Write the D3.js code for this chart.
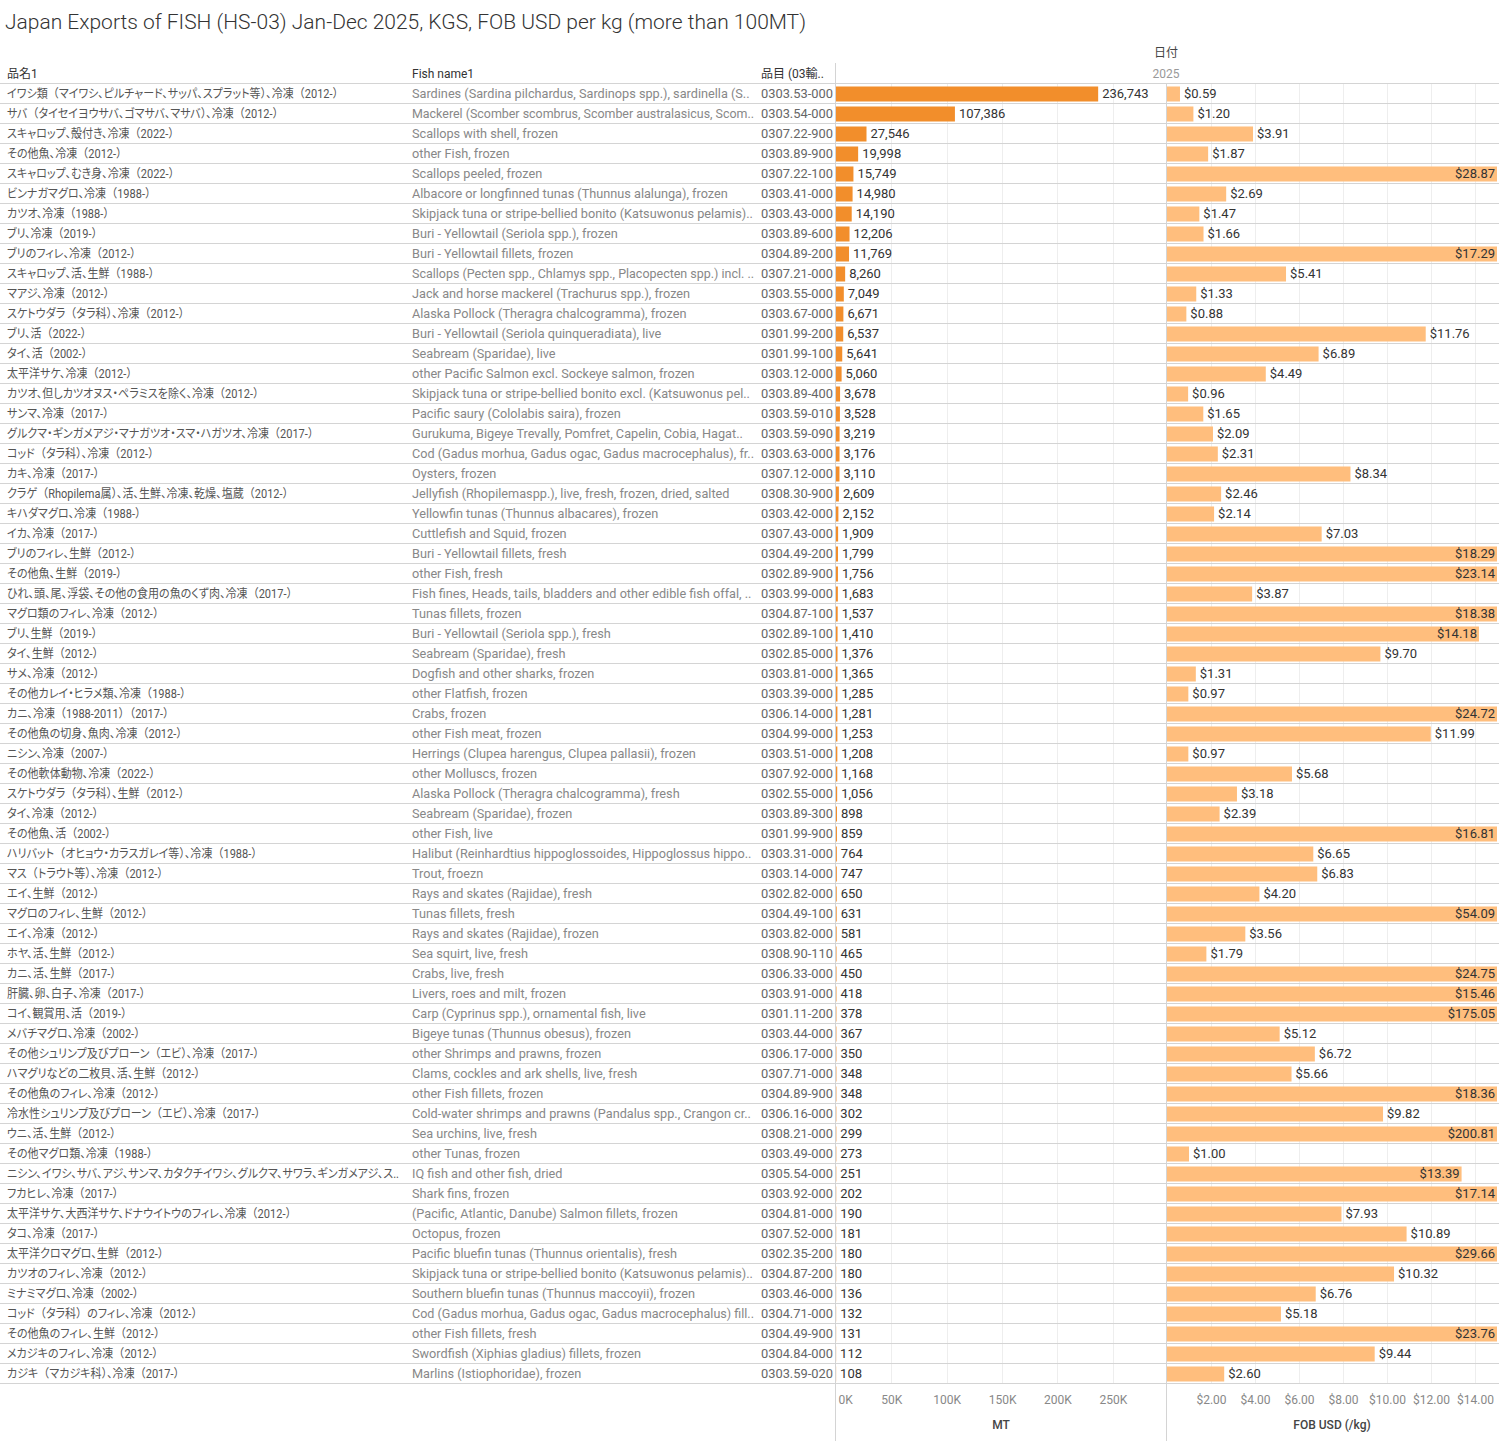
<!DOCTYPE html>
<html>
<head>
<meta charset="utf-8">
<script src="https://cdn.jsdelivr.net/npm/d3@7"></script>
<style>
  body { margin: 0; background: #fff; }
  text { font-family: Roboto, "Noto Sans CJK JP", sans-serif; }
</style>
</head>
<body>
<div id="chart"></div>
<script>
const jpNames = [
  "イワシ類（マイワシ、ピルチャード、サッパ、スプラット等）、冷凍（2012-）",
  "サバ（タイセイヨウサバ、ゴマサバ、マサバ）、冷凍（2012-）",
  "スキャロップ、殻付き、冷凍（2022-）",
  "その他魚、冷凍（2012-）",
  "スキャロップ、むき身、冷凍（2022-）",
  "ビンナガマグロ、冷凍（1988-）",
  "カツオ、冷凍（1988-）",
  "ブリ、冷凍（2019-）",
  "ブリのフィレ、冷凍（2012-）",
  "スキャロップ、活、生鮮（1988-）",
  "マアジ、冷凍（2012-）",
  "スケトウダラ（タラ科）、冷凍（2012-）",
  "ブリ、活（2022-）",
  "タイ、活（2002-）",
  "太平洋サケ、冷凍（2012-）",
  "カツオ、但しカツオヌス・ペラミスを除く、冷凍（2012-）",
  "サンマ、冷凍（2017-）",
  "グルクマ・ギンガメアジ・マナガツオ・スマ・ハガツオ、冷凍（2017-）",
  "コッド（タラ科）、冷凍（2012-）",
  "カキ、冷凍（2017-）",
  "クラゲ（Rhopilema属）、活、生鮮、冷凍、乾燥、塩蔵（2012-）",
  "キハダマグロ、冷凍（1988-）",
  "イカ、冷凍（2017-）",
  "ブリのフィレ、生鮮（2012-）",
  "その他魚、生鮮（2019-）",
  "ひれ、頭、尾、浮袋、その他の食用の魚のくず肉、冷凍（2017-）",
  "マグロ類のフィレ、冷凍（2012-）",
  "ブリ、生鮮（2019-）",
  "タイ、生鮮（2012-）",
  "サメ、冷凍（2012-）",
  "その他カレイ・ヒラメ類、冷凍（1988-）",
  "カニ、冷凍（1988-2011）（2017-）",
  "その他魚の切身、魚肉、冷凍（2012-）",
  "ニシン、冷凍（2007-）",
  "その他軟体動物、冷凍（2022-）",
  "スケトウダラ（タラ科）、生鮮（2012-）",
  "タイ、冷凍（2012-）",
  "その他魚、活（2002-）",
  "ハリバット（オヒョウ・カラスガレイ等）、冷凍（1988-）",
  "マス（トラウト等）、冷凍（2012-）",
  "エイ、生鮮（2012-）",
  "マグロのフィレ、生鮮（2012-）",
  "エイ、冷凍（2012-）",
  "ホヤ、活、生鮮（2012-）",
  "カニ、活、生鮮（2017-）",
  "肝臓、卵、白子、冷凍（2017-）",
  "コイ、観賞用、活（2019-）",
  "メバチマグロ、冷凍（2002-）",
  "その他シュリンプ及びプローン（エビ）、冷凍（2017-）",
  "ハマグリなどの二枚貝、活、生鮮（2012-）",
  "その他魚のフィレ、冷凍（2012-）",
  "冷水性シュリンプ及びプローン（エビ）、冷凍（2017-）",
  "ウニ、活、生鮮（2012-）",
  "その他マグロ類、冷凍（1988-）",
  "ニシン、イワシ、サバ、アジ、サンマ、カタクチイワシ、グルクマ、サワラ、ギンガメアジ、ス..",
  "フカヒレ、冷凍（2017-）",
  "太平洋サケ、大西洋サケ、ドナウイトウのフィレ、冷凍（2012-）",
  "タコ、冷凍（2017-）",
  "太平洋クロマグロ、生鮮（2012-）",
  "カツオのフィレ、冷凍（2012-）",
  "ミナミマグロ、冷凍（2002-）",
  "コッド（タラ科）のフィレ、冷凍（2012-）",
  "その他魚のフィレ、生鮮（2012-）",
  "メカジキのフィレ、冷凍（2012-）",
  "カジキ（マカジキ科）、冷凍（2017-）"
];

const fishNames = [
  "Sardines (Sardina pilchardus, Sardinops spp.), sardinella (S..",
  "Mackerel (Scomber scombrus, Scomber australasicus, Scom..",
  "Scallops with shell, frozen",
  "other Fish, frozen",
  "Scallops peeled, frozen",
  "Albacore or longfinned tunas (Thunnus alalunga), frozen",
  "Skipjack tuna or stripe-bellied bonito (Katsuwonus pelamis)..",
  "Buri - Yellowtail (Seriola spp.), frozen",
  "Buri - Yellowtail fillets, frozen",
  "Scallops (Pecten spp., Chlamys spp., Placopecten spp.) incl. ..",
  "Jack and horse mackerel (Trachurus spp.), frozen",
  "Alaska Pollock (Theragra chalcogramma), frozen",
  "Buri - Yellowtail (Seriola quinqueradiata), live",
  "Seabream (Sparidae), live",
  "other Pacific Salmon excl. Sockeye salmon, frozen",
  "Skipjack tuna or stripe-bellied bonito excl. (Katsuwonus pel..",
  "Pacific saury (Cololabis saira), frozen",
  "Gurukuma, Bigeye Trevally, Pomfret, Capelin, Cobia, Hagat..",
  "Cod (Gadus morhua, Gadus ogac, Gadus macrocephalus), fr..",
  "Oysters, frozen",
  "Jellyfish (Rhopilemaspp.), live, fresh, frozen, dried, salted",
  "Yellowfin tunas (Thunnus albacares), frozen",
  "Cuttlefish and Squid, frozen",
  "Buri - Yellowtail fillets, fresh",
  "other Fish, fresh",
  "Fish fines, Heads, tails, bladders and other edible fish offal, ..",
  "Tunas fillets, frozen",
  "Buri - Yellowtail (Seriola spp.), fresh",
  "Seabream (Sparidae), fresh",
  "Dogfish and other sharks, frozen",
  "other Flatfish, frozen",
  "Crabs, frozen",
  "other Fish meat, frozen",
  "Herrings (Clupea harengus, Clupea pallasii), frozen",
  "other Molluscs, frozen",
  "Alaska Pollock (Theragra chalcogramma), fresh",
  "Seabream (Sparidae), frozen",
  "other Fish, live",
  "Halibut (Reinhardtius hippoglossoides, Hippoglossus hippo..",
  "Trout, froezn",
  "Rays and skates (Rajidae), fresh",
  "Tunas fillets, fresh",
  "Rays and skates (Rajidae), frozen",
  "Sea squirt, live, fresh",
  "Crabs, live, fresh",
  "Livers, roes and milt, frozen",
  "Carp (Cyprinus spp.), ornamental fish, live",
  "Bigeye tunas (Thunnus obesus), frozen",
  "other Shrimps and prawns, frozen",
  "Clams, cockles and ark shells, live, fresh",
  "other Fish fillets, frozen",
  "Cold-water shrimps and prawns (Pandalus spp., Crangon cr..",
  "Sea urchins, live, fresh",
  "other Tunas, frozen",
  "IQ fish and other fish, dried",
  "Shark fins, frozen",
  "(Pacific, Atlantic, Danube) Salmon fillets, frozen",
  "Octopus, frozen",
  "Pacific bluefin tunas (Thunnus orientalis), fresh",
  "Skipjack tuna or stripe-bellied bonito (Katsuwonus pelamis)..",
  "Southern bluefin tunas (Thunnus maccoyii), frozen",
  "Cod (Gadus morhua, Gadus ogac, Gadus macrocephalus) fill..",
  "other Fish fillets, fresh",
  "Swordfish (Xiphias gladius) fillets, frozen",
  "Marlins (Istiophoridae), frozen"
];

const hsCodes = [
  "0303.53-000", "0303.54-000", "0307.22-900", "0303.89-900", "0307.22-100",
  "0303.41-000", "0303.43-000", "0303.89-600", "0304.89-200", "0307.21-000",
  "0303.55-000", "0303.67-000", "0301.99-200", "0301.99-100", "0303.12-000",
  "0303.89-400", "0303.59-010", "0303.59-090", "0303.63-000", "0307.12-000",
  "0308.30-900", "0303.42-000", "0307.43-000", "0304.49-200", "0302.89-900",
  "0303.99-000", "0304.87-100", "0302.89-100", "0302.85-000", "0303.81-000",
  "0303.39-000", "0306.14-000", "0304.99-000", "0303.51-000", "0307.92-000",
  "0302.55-000", "0303.89-300", "0301.99-900", "0303.31-000", "0303.14-000",
  "0302.82-000", "0304.49-100", "0303.82-000", "0308.90-110", "0306.33-000",
  "0303.91-000", "0301.11-200", "0303.44-000", "0306.17-000", "0307.71-000",
  "0304.89-900", "0306.16-000", "0308.21-000", "0303.49-000", "0305.54-000",
  "0303.92-000", "0304.81-000", "0307.52-000", "0302.35-200", "0304.87-200",
  "0303.46-000", "0304.71-000", "0304.49-900", "0304.84-000", "0303.59-020"
];

// MT (sum of KGS / 1000)
const mtValues = [
  236743, 107386, 27546, 19998, 15749, 14980, 14190, 12206, 11769, 8260,
  7049, 6671, 6537, 5641, 5060, 3678, 3528, 3219, 3176, 3110,
  2609, 2152, 1909, 1799, 1756, 1683, 1537, 1410, 1376, 1365,
  1285, 1281, 1253, 1208, 1168, 1056, 898, 859, 764, 747,
  650, 631, 581, 465, 450, 418, 378, 367, 350, 348,
  348, 302, 299, 273, 251, 202, 190, 181, 180, 180,
  136, 132, 131, 112, 108
];

// FOB USD per kg
const fobValues = [
  0.59, 1.20, 3.91, 1.87, 28.87, 2.69, 1.47, 1.66, 17.29, 5.41,
  1.33, 0.88, 11.76, 6.89, 4.49, 0.96, 1.65, 2.09, 2.31, 8.34,
  2.46, 2.14, 7.03, 18.29, 23.14, 3.87, 18.38, 14.18, 9.70, 1.31,
  0.97, 24.72, 11.99, 0.97, 5.68, 3.18, 2.39, 16.81, 6.65, 6.83,
  4.20, 54.09, 3.56, 1.79, 24.75, 15.46, 175.05, 5.12, 6.72, 5.66,
  18.36, 9.82, 200.81, 1.00, 13.39, 17.14, 7.93, 10.89, 29.66, 10.32,
  6.76, 5.18, 23.76, 9.44, 2.60
];

const mtTicks = [0, 50000, 100000, 150000, 200000, 250000];
const fobTicks = [2, 4, 6, 8, 10, 12, 14];
const headers = ["品名1", "Fish name1", "品目 (03輸.."];

// layout
const width = 1499, height = 1441;
const topY = 84, rowH = 20, n = jpNames.length;
const bottomY = topY + n * rowH;
const col = {jp: 7, en: 412, code: 761, mt0: 836, mt1: 1166, fob0: 1167, fob1: 1497};

const lineColor = "#d4d4d4", gridColor = "#eeeeee";

const svg = d3.select("#chart").append("svg")
    .attr("width", width)
    .attr("height", height);

const y = d3.scaleBand()
    .domain(d3.range(n))
    .range([topY, bottomY])
    .paddingInner(0.25)
    .paddingOuter(0.125);

const xMt = d3.scaleLinear().domain([0, 298000]).range([col.mt0, col.mt1]);
const xFob = d3.scaleLinear().domain([0, 15]).range([col.fob0, col.fob1]);

const rowMid = i => y(i) + y.bandwidth() / 2;

// title
svg.append("text")
    .attr("x", 5)
    .attr("y", 29)
    .attr("font-size", 20)
    .attr("font-weight", 300)
    .attr("fill", "#333")
    .attr("textLength", 801)
    .attr("lengthAdjust", "spacingAndGlyphs")
    .text("Japan Exports of FISH (HS-03) Jan-Dec 2025, KGS, FOB USD per kg (more than 100MT)");

// column headers
svg.append("text")
    .attr("x", col.mt1).attr("y", 57)
    .attr("text-anchor", "middle")
    .attr("font-size", 12).attr("fill", "#444")
    .text("日付");

svg.append("text")
    .attr("x", col.mt1).attr("y", 78)
    .attr("text-anchor", "middle")
    .attr("font-size", 12).attr("fill", "#999")
    .text("2025");

svg.selectAll(".hdr")
  .data(headers)
  .join("text")
    .attr("class", "hdr")
    .attr("x", (d, i) => [col.jp, col.en, col.code][i])
    .attr("y", 78)
    .attr("font-size", 12)
    .attr("fill", "#333")
    .text(d => d);

// gridlines
svg.append("g").selectAll("line")
  .data(mtTicks.filter(d => d > 0))
  .join("line")
    .attr("x1", d => Math.round(xMt(d)) + 0.5)
    .attr("x2", d => Math.round(xMt(d)) + 0.5)
    .attr("y1", topY).attr("y2", bottomY)
    .attr("stroke", gridColor);

svg.append("g").selectAll("line")
  .data(fobTicks)
  .join("line")
    .attr("x1", d => Math.round(xFob(d)) + 0.5)
    .attr("x2", d => Math.round(xFob(d)) + 0.5)
    .attr("y1", topY).attr("y2", bottomY)
    .attr("stroke", gridColor);

// row separators
svg.append("g").selectAll("line")
  .data(d3.range(n + 1))
  .join("line")
    .attr("x1", 0).attr("x2", width)
    .attr("y1", i => topY + i * rowH - 0.5)
    .attr("y2", i => topY + i * rowH - 0.5)
    .attr("stroke", lineColor);

// pane borders
svg.append("line")
    .attr("x1", 835.5).attr("x2", 835.5)
    .attr("y1", 63).attr("y2", height)
    .attr("stroke", lineColor);
svg.append("line")
    .attr("x1", 1166.5).attr("x2", 1166.5)
    .attr("y1", topY).attr("y2", height)
    .attr("stroke", lineColor);

// text columns, scaled horizontally to the widths Tableau's narrow font gives.
// refs: [row index, width in the reference] used to pick the squeeze factor,
// maxW: column room, longer strings get squeezed a bit more
function textColumn(data, x, color, refs, maxW, jp) {
  const g = svg.append("g");
  const t = g.selectAll("text")
    .data(data)
    .join("text")
      .attr("x", 0)
      .attr("y", (d, i) => rowMid(i))
      .attr("dy", "0.34em")
      .attr("font-size", 12)
      .attr("fill", color);
  if (jp) {
    // proportional kana, but keep the wide brackets Tableau shows
    t.each(function(d) {
      const sel = d3.select(this);
      d.split(/([（）])/).filter(s => s).forEach(s => {
        sel.append("tspan")
            .style("font-feature-settings", /^[（）]$/.test(s) ? "normal" : "'palt'")
            .text(s);
      });
    });
  } else {
    t.text(d => d);
  }
  const nodes = t.nodes();
  const got = d3.sum(refs, r => nodes[r[0]].getComputedTextLength());
  const k = d3.sum(refs, r => r[1]) / got;
  g.attr("transform", `translate(${x},0) scale(${k},1)`);
  t.each(function() {
    if (this.getComputedTextLength() * k > maxW) {
      d3.select(this)
          .attr("textLength", maxW / k)
          .attr("lengthAdjust", "spacingAndGlyphs");
    }
  });
}

textColumn(jpNames, col.jp, "#555", [[0, 346], [54, 385]], 392, true);
textColumn(fishNames, col.en, "#888", [[0, 338]], 342, false);
textColumn(hsCodes, col.code, "#666", [[0, 72]], 73, false);

// MT bars
svg.append("g").selectAll("rect")
  .data(mtValues)
  .join("rect")
    .attr("x", xMt(0))
    .attr("y", (d, i) => y(i))
    .attr("width", d => xMt(d) - xMt(0))
    .attr("height", y.bandwidth())
    .attr("fill", "#f28e2b");

svg.append("g").selectAll("text")
  .data(mtValues)
  .join("text")
    .attr("x", d => xMt(d) + 4)
    .attr("y", (d, i) => rowMid(i))
    .attr("dy", "0.34em")
    .attr("font-size", 13)
    .attr("fill", "#333")
    .text(d => d3.format(",")(d));

// FOB bars (clipped at the pane edge like Tableau)
const fobMax = xFob.domain()[1];
const fobEnd = d => xFob(Math.min(d, fobMax));
svg.append("g").selectAll("rect")
  .data(fobValues)
  .join("rect")
    .attr("x", xFob(0))
    .attr("y", (d, i) => y(i))
    .attr("width", d => fobEnd(d) - xFob(0))
    .attr("height", y.bandwidth())
    .attr("fill", "#ffbe7d");

// label goes after the bar, or inside its end when there is no room
svg.append("g").selectAll("text")
  .data(fobValues)
  .join("text")
    .attr("y", (d, i) => rowMid(i))
    .attr("dy", "0.34em")
    .attr("font-size", 13)
    .attr("fill", "#333")
    .text(d => "$" + d3.format(".2f")(d))
    .each(function(d) {
      const w = this.getComputedTextLength();
      const end = fobEnd(d);
      if (end + 4 + w > col.fob1) {
        d3.select(this).attr("text-anchor", "end").attr("x", Math.min(end, col.fob1) - 2);
      } else {
        d3.select(this).attr("x", end + 4);
      }
    });

// axes
const axMt = svg.append("g")
    .attr("transform", `translate(0,${bottomY + 8})`)
    .call(d3.axisBottom(xMt).tickValues(mtTicks).tickSize(0).tickFormat(d => d / 1000 + "K"));
const axFob = svg.append("g")
    .attr("transform", `translate(0,${bottomY + 8})`)
    .call(d3.axisBottom(xFob).tickValues(fobTicks).tickSize(0).tickFormat(d => "$" + d3.format(".2f")(d)));

[axMt, axFob].forEach(ax => {
  ax.select(".domain").remove();
  ax.selectAll("text")
      .attr("font-size", 12)
      .attr("font-family", "Roboto, sans-serif")
      .attr("fill", "#888");
});
axMt.selectAll(".tick").filter(d => d === 0).select("text")
    .attr("text-anchor", "start")
    .attr("x", 2);

svg.append("text")
    .attr("x", (col.mt0 + col.mt1) / 2).attr("y", 1429)
    .attr("text-anchor", "middle")
    .attr("font-size", 12).attr("font-weight", 500).attr("fill", "#444")
    .text("MT");

svg.append("text")
    .attr("x", (col.fob0 + col.fob1) / 2).attr("y", 1429)
    .attr("text-anchor", "middle")
    .attr("font-size", 12).attr("font-weight", 500).attr("fill", "#444")
    .text("FOB USD (/kg)");
</script>
</body>
</html>
